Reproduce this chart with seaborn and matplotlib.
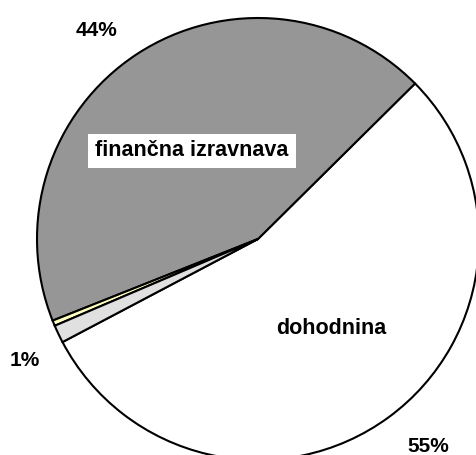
import matplotlib.pyplot as plt
import seaborn as sns

# shares (percent)
categories = ["dohodnina", "finančna izravnava", "drugi prihodki", "ostalo"]
shares = [54.7, 43.6, 0.4, 1.3]
colors = ["#FFFFFF", "#969696", "#FFFFC0", "#E0E0E0"]

# which slices get a percentage label, and where (pixel coords, y up)
pct_labels = {0: (428, 8), 1: (97, 424), 3: (25, 94)}
name_labels = {0: (331, 127), 1: (192, 304)}

sns.set_style("white")
plt.rcParams["font.family"] = ["Liberation Sans", "DejaVu Sans"]

W, H = 477, 455
fig = plt.figure(figsize=(W / 100, H / 100), dpi=100)
ax = fig.add_axes([0, 0, 1, 1])

ax.pie(
    shares,
    colors=colors,
    startangle=207.8,
    counterclock=True,
    center=(258, 216),
    radius=221,
    frame=True,
    wedgeprops={"edgecolor": "black", "linewidth": 1.5},
)

ax.set_xlim(0, W)
ax.set_ylim(0, H)
ax.set_aspect("equal")
ax.axis("off")

for i, (x, y) in pct_labels.items():
    ax.text(x, y, f"{shares[i]:.0f}%", ha="center", va="center",
            fontsize=15, fontweight="bold", color="black")

for i, (x, y) in name_labels.items():
    box = None
    if i == 1:
        box = {"facecolor": "white", "edgecolor": "none", "pad": 5}
    ax.text(x, y, categories[i], ha="center", va="center",
            fontsize=15.5, fontweight="bold", color="black", bbox=box)

fig.savefig("out.png", dpi=100)
